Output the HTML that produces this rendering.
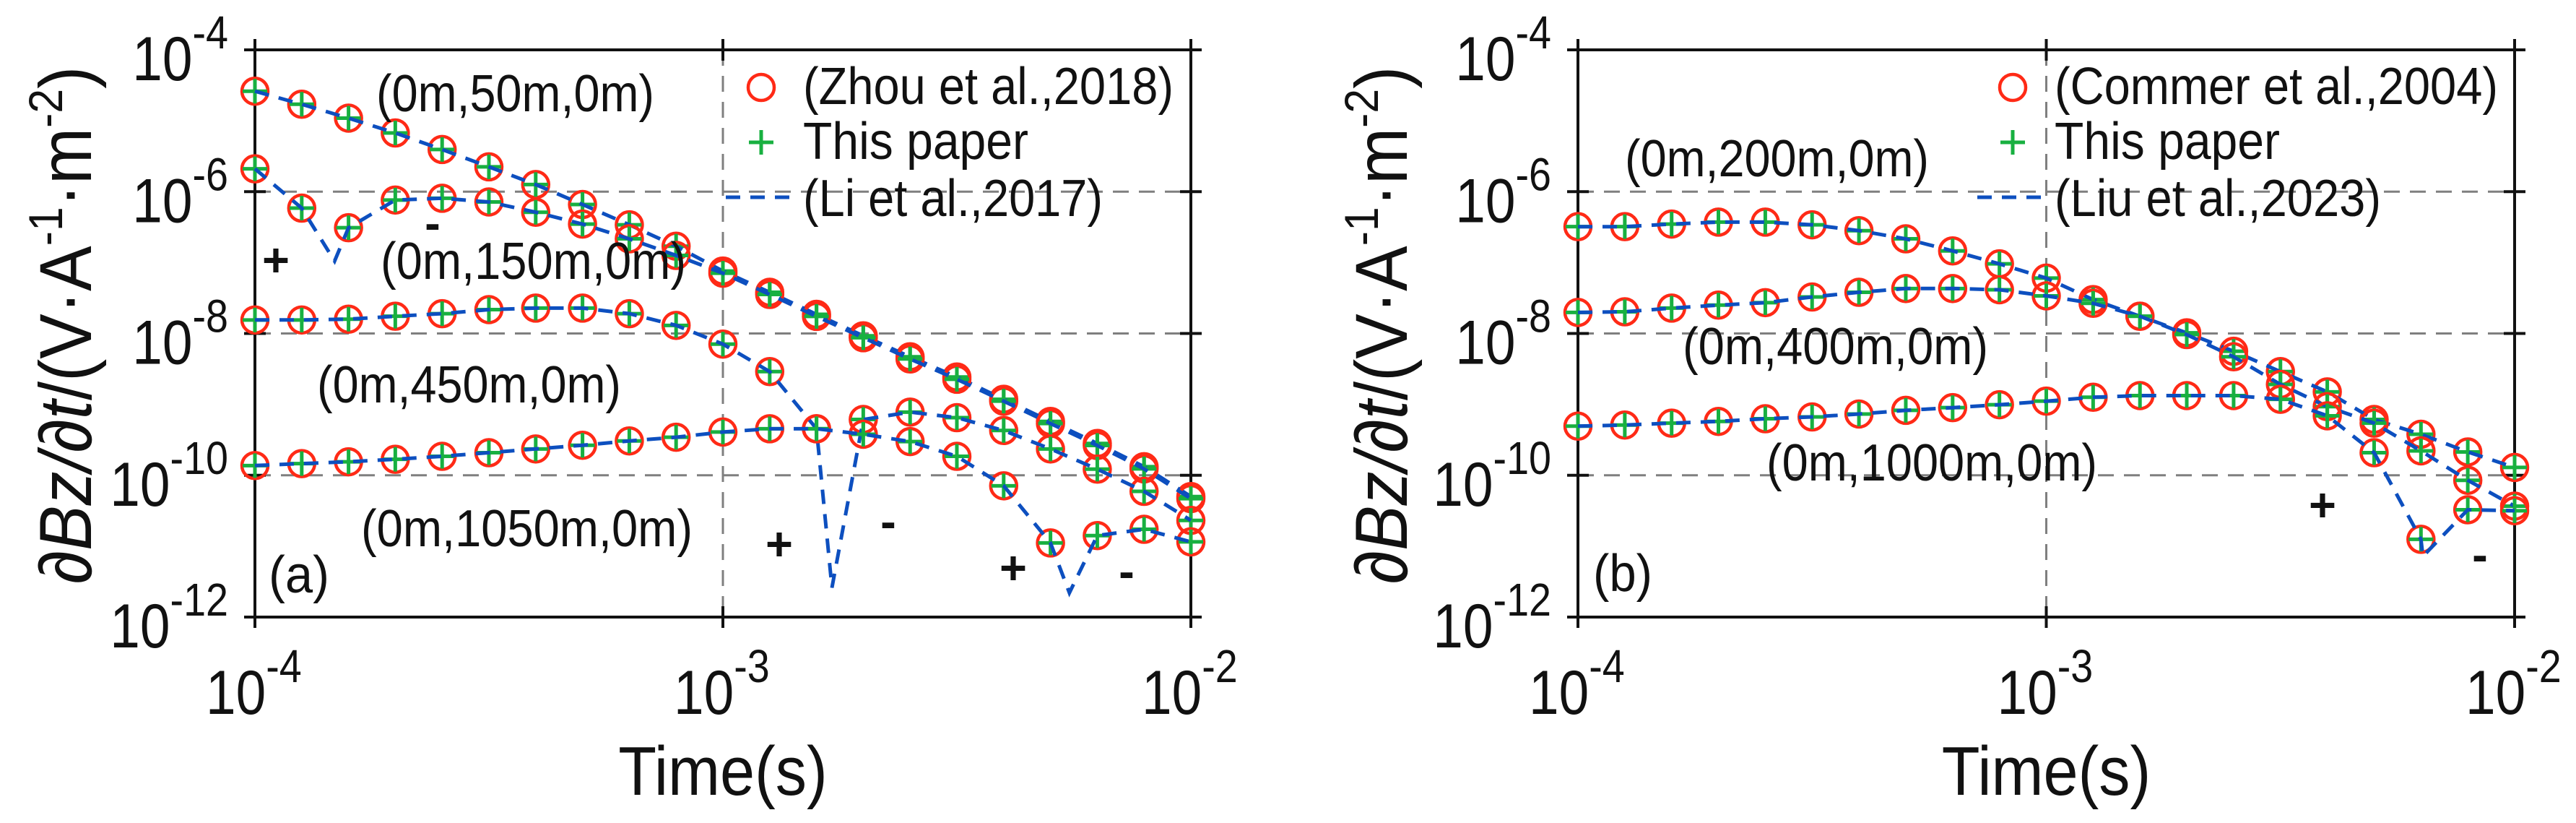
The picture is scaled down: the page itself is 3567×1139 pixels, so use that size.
<!DOCTYPE html>
<html><head><meta charset="utf-8"><style>
html,body{margin:0;padding:0;background:#fff;}
svg{display:block;font-family:"Liberation Sans",Arial,sans-serif;}
</style></head><body>
<svg id="fig" width="3567" height="1139" viewBox="0 0 3567 1139" xmlns="http://www.w3.org/2000/svg"></svg>
<script>
// ---------- data ----------
const times = [1e-4,1.259e-4,1.585e-4,1.995e-4,2.512e-4,3.162e-4,3.981e-4,5.012e-4,6.31e-4,7.943e-4,1e-3,1.259e-3,1.585e-3,1.995e-3,2.512e-3,3.162e-3,3.981e-3,5.012e-3,6.31e-3,7.943e-3,1e-2];
// panel (a)
const a50 = [2.61e-5,1.71e-5,1.09e-5,6.73e-6,3.93e-6,2.24e-6,1.26e-6,6.59e-7,3.41e-7,1.70e-7,7.59e-8,3.81e-8,1.86e-8,9.27e-9,4.69e-9,2.43e-9,1.18e-9,5.75e-10,2.81e-10,1.32e-10,5.01e-11];
const a150 = [2.10e-6,5.86e-7,3.10e-7,7.62e-7,8.07e-7,7.16e-7,5.13e-7,3.49e-7,2.16e-7,1.26e-7,7.08e-8,3.55e-8,1.74e-8,8.71e-9,4.37e-9,2.26e-9,1.11e-9,5.37e-10,2.63e-10,1.23e-10,4.68e-11];
const a450 = [1.55e-8,1.55e-8,1.59e-8,1.75e-8,1.90e-8,2.17e-8,2.28e-8,2.28e-8,1.90e-8,1.30e-8,7.08e-9,2.90e-9,4.53e-10,6.12e-10,7.78e-10,6.49e-10,4.28e-10,2.35e-10,1.22e-10,5.93e-11,2.31e-11];
const a1050 = [1.37e-10,1.46e-10,1.55e-10,1.68e-10,1.85e-10,2.08e-10,2.35e-10,2.65e-10,3.05e-10,3.44e-10,4.07e-10,4.53e-10,4.53e-10,3.79e-10,2.99e-10,1.85e-10,7.10e-11,1.11e-11,1.41e-11,1.73e-11,1.15e-11];
// sign-change dips of the reference (dashed) curves: [time, value]
const a150Dip = [1.48e-4, 1.05e-7];
const a450Dip = [1.71e-3, 2.6e-12];
const a1050Dip = [5.5e-3, 2.2e-12];
// panel (b)
const b200 = [3.21e-7,3.21e-7,3.49e-7,3.72e-7,3.72e-7,3.41e-7,2.82e-7,2.16e-7,1.46e-7,9.59e-8,6.03e-8,3.00e-8,1.75e-8,1.02e-8,5.61e-9,2.90e-9,1.50e-9,6.12e-10,3.79e-10,2.13e-10,1.29e-10];
const b400 = [1.98e-8,2.02e-8,2.28e-8,2.51e-8,2.72e-8,3.27e-8,3.81e-8,4.30e-8,4.30e-8,4.14e-8,3.39e-8,2.66e-8,1.75e-8,9.64e-9,4.69e-9,1.91e-9,9.29e-10,5.43e-10,2.21e-10,8.49e-11,3.67e-11];
const b1000 = [4.93e-10,5.11e-10,5.43e-10,5.75e-10,6.27e-10,6.65e-10,7.31e-10,8.24e-10,8.99e-10,9.89e-10,1.11e-9,1.26e-9,1.33e-9,1.33e-9,1.33e-9,1.18e-9,6.90e-10,2.08e-10,1.25e-11,3.26e-11,3.16e-11];
const b1000Dip = [6.37e-3, 7.2e-12];
const yTickExps = [-4,-6,-8,-10,-12];
const xTickExps = [-4,-3,-2];
const yGridExps = [-6,-8,-10];
const xGridExps = [-3];

// ---------- drawing ----------
const NS = "http://www.w3.org/2000/svg";
const svg = document.getElementById('fig');
function mk(tag, attrs, parent){
  const e = document.createElementNS(NS, tag);
  for (const k in attrs) e.setAttribute(k, attrs[k]);
  (parent||svg).appendChild(e);
  return e;
}
const Y0 = 69, Y1 = 854;
const SX = 0.87;
function yScale(v){ return Y0 + (-4 - Math.log10(v)) * (Y1 - Y0) / 8; }

function panel(opt){
  const g = mk('g', {});
  
  
  const xs = t => opt.x0 + (Math.log10(t) + 4) * (opt.x1 - opt.x0) / 2;
  yGridExps.forEach(e => {
    const y = yScale(Math.pow(10, e));
    const l = mk('line', {x1:opt.x0, x2:opt.x1, y1:y, y2:y, stroke:'#7f7f7f', 'stroke-width':3, 'stroke-dasharray':'22 14'}, g);
    
    
  });
  xGridExps.forEach(e => {
    const x = xs(Math.pow(10, e));
    const l = mk('line', {x1:x, x2:x, y1:Y0, y2:Y1, stroke:'#7f7f7f', 'stroke-width':3, 'stroke-dasharray':'22 14'}, g);
    
    
  });
  const box = mk('rect', {x:opt.x0, y:Y0, width:opt.x1-opt.x0, height:Y1-Y0, fill:'none', stroke:'#111', 'stroke-width':4}, g);
  
  
  yTickExps.forEach(e => {
    const y = yScale(Math.pow(10, e));
    mk('line', {x1:opt.x0-15, x2:opt.x0+15, y1:y, y2:y, stroke:'#111', 'stroke-width':4}, g);
    mk('line', {x1:opt.x1-15, x2:opt.x1+15, y1:y, y2:y, stroke:'#111', 'stroke-width':4}, g);
    const t = mk('text', {x:0, y:0, 'text-anchor':'end', 'font-size':86, fill:'#111', transform:`translate(${opt.x0-37},${y+42}) scale(${SX},1)`}, g);
    
    
    t.innerHTML = '10<tspan dy="-44" font-size="64">' + e + '</tspan>';
  });
  xTickExps.forEach(e => {
    const x = xs(Math.pow(10, e));
    mk('line', {x1:x, x2:x, y1:Y0-15, y2:Y0+15, stroke:'#111', 'stroke-width':4}, g);
    mk('line', {x1:x, x2:x, y1:Y1-15, y2:Y1+15, stroke:'#111', 'stroke-width':4}, g);
    const t = mk('text', {x:0, y:0, 'font-size':86, fill:'#111', transform:`translate(${x-68},988) scale(${SX},1)`}, g);
    
    
    t.innerHTML = '10<tspan dy="-44" font-size="64">' + e + '</tspan>';
  });
  opt.series.forEach(s => {
    const sg = mk('g', {}, g);
    
    
    times.forEach((t, i) => {
      const c = mk('circle', {cx:xs(t), cy:yScale(s.vals[i]), r:18, fill:'none', stroke:'#ff2a16', 'stroke-width':4.5}, sg);
      
      
    });
    times.forEach((t, i) => {
      const x = xs(t), y = yScale(s.vals[i]);
      const p = mk('path', {d:`M${x-17},${y}H${x+17}M${x},${y-17}V${y+17}`, stroke:'#18b040', 'stroke-width':5, fill:'none'}, sg);
      
      
    });
    const pts = times.map((t, i) => [t, s.vals[i]]);
    if (s.dip) pts.push([s.dip[0], s.dip[1]]);
    pts.sort((a, b) => a[0] - b[0]);
    const d = pts.map((p, i) => (i ? 'L' : 'M') + xs(p[0]).toFixed(1) + ',' + yScale(p[1]).toFixed(1)).join('');
    const ln = mk('path', {d:d, fill:'none', stroke:'#0d4fbf', 'stroke-width':5, 'stroke-dasharray':'20 14'}, sg);
    
    
  });
  opt.labels.forEach(l => {
    const t = mk('text', {x:l[1], y:l[2], 'font-size':72, fill:'#111'}, g);
    t.setAttribute('textLength', l[3]);
    t.setAttribute('lengthAdjust', 'spacingAndGlyphs');
    
    
    t.textContent = l[0];
  });
  opt.signs.forEach(s => {
    const t = mk('text', {x:s[1], y:s[2] + 21, 'font-size':65, 'text-anchor':'middle', fill:'#111', 'font-weight':'bold'}, g);
    
    
    t.textContent = s[0];
  });
  const lg = mk('g', {}, g);
  
  
  const lx = opt.legX;
  mk('circle', {cx:lx, cy:121, r:18, fill:'none', stroke:'#ff2a16', 'stroke-width':4.5}, lg);
  mk('path', {d:`M${lx-17},197H${lx+17}M${lx},180V214`, stroke:'#18b040', 'stroke-width':5}, lg);
  mk('line', {x1:lx-49, x2:lx+48, y1:273, y2:273, stroke:'#0d4fbf', 'stroke-width':5, 'stroke-dasharray':'20 14'}, lg);
  opt.legText.forEach((s, i) => {
    const t = mk('text', {x:lx+58, y:[144,220,299][i], 'font-size':72, fill:'#111', textLength:opt.legW[i], lengthAdjust:'spacingAndGlyphs'}, lg);
    
    
    t.textContent = s;
  });
  const xt = mk('text', {x:0, y:0, 'text-anchor':'middle', 'font-size':96, fill:'#111', transform:`translate(${(opt.x0+opt.x1)/2},1100) scale(0.9,1)`}, g);
  
  
  xt.textContent = 'Time(s)';
  const yt = mk('text', {x:0, y:0, 'text-anchor':'middle', 'font-size':102, fill:'#111', transform:`translate(${opt.yTitleX},450) rotate(-90) scale(0.92,1)`}, g);
  
  
  yt.innerHTML = '<tspan font-style="italic">\u2202Bz/\u2202t</tspan>/(V\u00b7A<tspan dy="-40" font-size="66">-1</tspan><tspan dy="40">\u00b7m</tspan><tspan dy="-40" font-size="66">-2</tspan><tspan dy="40">)</tspan>';
}

panel({
  name:'panel-a', x0:353, x1:1649, legX:1054, yTitleX:126,
  legText:['(Zhou et al.,2018)','This paper','(Li et al.,2017)'],
  legW:[513,312,415],
  series:[
    {name:'series-50m', vals:a50},
    {name:'series-150m', vals:a150, dip:a150Dip},
    {name:'series-450m', vals:a450, dip:a450Dip},
    {name:'series-1050m', vals:a1050, dip:a1050Dip}
  ],
  labels:[['(0m,50m,0m)',521,154,385],['(0m,150m,0m)',527,386,423],['(0m,450m,0m)',439,557,421],['(0m,1050m,0m)',500,756,459],['(a)',372,820,84]],
  signs:[['+',382,361],['-',599,310],['+',1079,754],['-',1230,723],['+',1403,787],['-',1560,792]]
});
panel({
  name:'panel-b', x0:2185, x1:3482, legX:2787, yTitleX:1948,
  legText:['(Commer et al.,2004)','This paper','(Liu et al.,2023)'],
  legW:[614,312,452],
  series:[
    {name:'series-200m', vals:b200},
    {name:'series-400m', vals:b400},
    {name:'series-1000m', vals:b1000, dip:b1000Dip}
  ],
  labels:[['(0m,200m,0m)',2250,244,421],['(0m,400m,0m)',2330,504,423],['(0m,1000m,0m)',2446,665,458],['(b)',2206,818,82]],
  signs:[['+',3216,700],['-',3434,769]]
});
</script>
</body></html>
